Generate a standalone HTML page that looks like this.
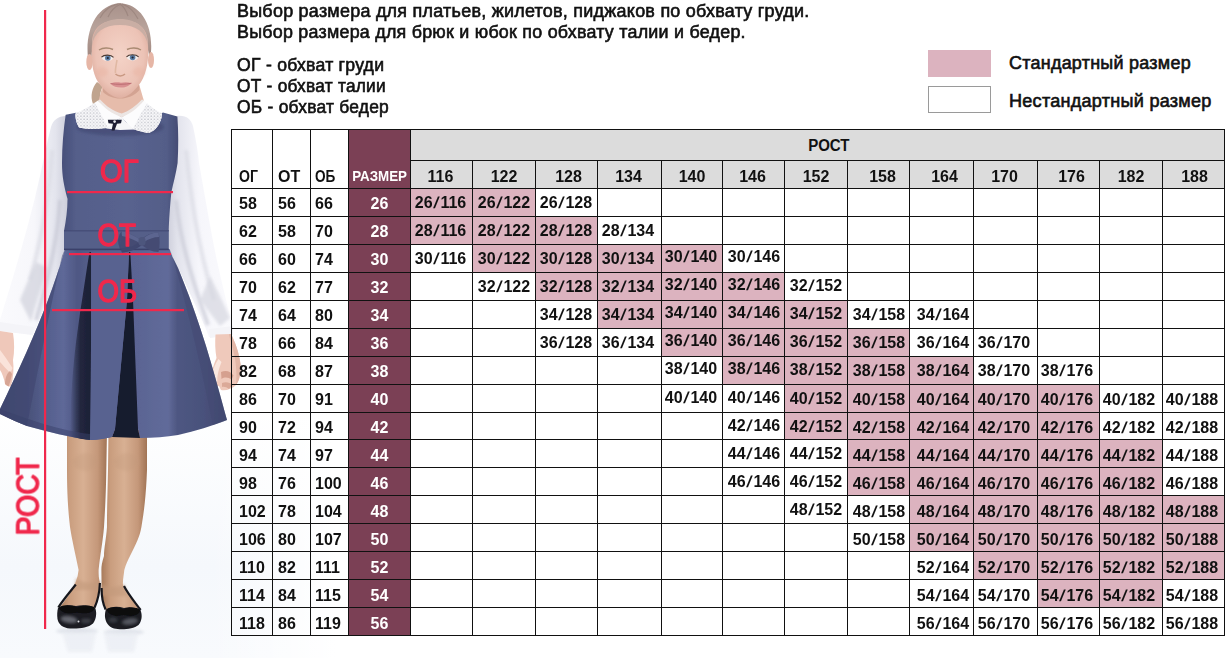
<!DOCTYPE html>
<html lang="ru"><head><meta charset="utf-8"><title>Размерная сетка</title>
<style>
html,body{margin:0;padding:0;background:#fff;}
body{width:1232px;height:658px;overflow:hidden;font-family:"Liberation Sans",sans-serif;color:#111;}
#page{position:relative;width:1232px;height:658px;overflow:hidden;background:#fff;}
#fig{position:absolute;left:0;top:0;}
.t{position:absolute;white-space:nowrap;font-weight:normal;color:#111;-webkit-text-stroke:0.6px #111;letter-spacing:0.25px;transform-origin:0 50%;}
.intro,.abbr,.leg{font-size:17.5px;line-height:20px;}
.box{position:absolute;}
.bg{position:absolute;}
.ln{position:absolute;background:#111;}
.c{position:absolute;text-align:center;white-space:nowrap;font-weight:bold;font-size:16px;color:#111;overflow:visible;}
.c.l{text-align:left;}
.c.hd{font-size:16px;}
.c.rz{font-size:14px;color:#fff;}
.c.sz{font-size:16px;color:#fff;}
.c i{font-style:normal;display:inline-block;padding:0 1.7px;transform:translateX(-0.7px) skewX(-12deg);}
.sx{display:inline-block;}

</style></head>
<body>
<div id="page">
<svg id="fig" width="420" height="658" viewBox="0 0 420 658">
<defs>
  <linearGradient id="bgv" x1="0" y1="0" x2="0" y2="1">
    <stop offset="0" stop-color="#ffffff"/><stop offset="0.62" stop-color="#ffffff"/>
    <stop offset="0.86" stop-color="#f5f8fc"/><stop offset="1" stop-color="#f8fafd"/>
  </linearGradient>
  <linearGradient id="bgh" x1="0" y1="0" x2="1" y2="0">
    <stop offset="0" stop-color="#fff" stop-opacity="0"/><stop offset="0.5" stop-color="#fff" stop-opacity="0"/>
    <stop offset="0.8" stop-color="#fff" stop-opacity="1"/><stop offset="1" stop-color="#fff" stop-opacity="1"/>
  </linearGradient>
  <linearGradient id="skirt" x1="0" y1="0" x2="1" y2="0">
    <stop offset="0" stop-color="#41486f"/><stop offset="0.12" stop-color="#495179"/>
    <stop offset="0.2" stop-color="#555f8d"/><stop offset="0.28" stop-color="#5e6898"/><stop offset="0.34" stop-color="#4f5884"/>
    <stop offset="0.45" stop-color="#57618f"/><stop offset="0.62" stop-color="#5b6594"/><stop offset="0.74" stop-color="#616b9a"/>
    <stop offset="0.78" stop-color="#4e5782"/><stop offset="0.9" stop-color="#49517b"/><stop offset="1" stop-color="#41486e"/>
  </linearGradient>
  <linearGradient id="bod" x1="0" y1="0" x2="1" y2="0">
    <stop offset="0" stop-color="#474f79"/><stop offset="0.12" stop-color="#545e8a"/>
    <stop offset="0.55" stop-color="#59638f"/><stop offset="0.9" stop-color="#535d88"/><stop offset="1" stop-color="#444c74"/>
  </linearGradient>
  <linearGradient id="slL" x1="0" y1="0" x2="1" y2="0">
    <stop offset="0" stop-color="#fafafd"/><stop offset="0.5" stop-color="#f7f7fb"/>
    <stop offset="0.82" stop-color="#e3e4ed"/><stop offset="1" stop-color="#cbccd9"/>
  </linearGradient>
  <linearGradient id="slR" x1="1" y1="0" x2="0" y2="0">
    <stop offset="0" stop-color="#fafafd"/><stop offset="0.5" stop-color="#f6f6fb"/>
    <stop offset="0.82" stop-color="#e2e3ec"/><stop offset="1" stop-color="#c9cad7"/>
  </linearGradient>
  <linearGradient id="legL" x1="0" y1="0" x2="1" y2="0">
    <stop offset="0" stop-color="#a87b5b"/><stop offset="0.2" stop-color="#c99d7e"/>
    <stop offset="0.5" stop-color="#d8b093"/><stop offset="0.8" stop-color="#c5987a"/><stop offset="1" stop-color="#a17455"/>
  </linearGradient>
  <linearGradient id="hair" x1="0" y1="0" x2="0" y2="1">
    <stop offset="0" stop-color="#a8918a"/><stop offset="0.45" stop-color="#b8a39b"/><stop offset="1" stop-color="#9b827a"/>
  </linearGradient>
  <radialGradient id="face" cx="0.5" cy="0.45" r="0.6">
    <stop offset="0" stop-color="#f4d3c7"/><stop offset="0.7" stop-color="#ecc3b6"/><stop offset="1" stop-color="#dba99a"/>
  </radialGradient>
  <filter id="b1" x="-5%" y="-5%" width="110%" height="110%"><feGaussianBlur stdDeviation="0.55"/></filter>
  <filter id="b2" x="-20%" y="-20%" width="140%" height="140%"><feGaussianBlur stdDeviation="1.6"/></filter>
  <filter id="b3" x="-30%" y="-30%" width="160%" height="160%"><feGaussianBlur stdDeviation="4"/></filter>
  <linearGradient id="pl" x1="0" y1="0" x2="1" y2="0">
    <stop offset="0" stop-color="#22263e" stop-opacity="0"/><stop offset="0.5" stop-color="#22263e" stop-opacity="1"/><stop offset="1" stop-color="#1c2035" stop-opacity="1"/>
  </linearGradient>
  <pattern id="lace" width="3.2" height="3.2" patternUnits="userSpaceOnUse">
    <rect width="3.2" height="3.2" fill="#f7f7f9"/><circle cx="0.9" cy="0.9" r="0.75" fill="#bfc0c8"/><circle cx="2.5" cy="2.4" r="0.6" fill="#d3d4da"/>
  </pattern>
</defs>
<rect x="0" y="0" width="420" height="658" fill="url(#bgv)"/>
<rect x="0" y="0" width="420" height="658" fill="url(#bgh)"/>
<g filter="url(#b1)">
  <!-- floor shadow / reflection -->
  <ellipse cx="77" cy="631" rx="21" ry="3" fill="#d9dde5" opacity="0.8" filter="url(#b2)"/><ellipse cx="124" cy="632" rx="20" ry="3" fill="#d9dde5" opacity="0.8" filter="url(#b2)"/>
  <path d="M62 632 L96 632 L92 652 L68 652 Z M104 632 L138 632 L134 652 L108 652 Z" fill="#e9ecf2" opacity="0.7" filter="url(#b2)"/>

  <!-- ponytail -->
  <path d="M97 82 C92 88 90 96 93 104 L101 102 C99 95 101 90 103 86 Z" fill="#c0a48e"/>
  <!-- neck -->
  <path d="M103 84 L98.5 101 L121.8 117.8 L143.8 100.6 L139 84 Z" fill="#e6bcab"/>
  <path d="M103 92 C112 101 130 101 139.5 90 L139 84 L103 84 Z" fill="#d3a392"/>
  <!-- hair -->
  <path d="M88 58 C85 30 96 6 119 3 C142 4 153 26 151 52 L150 60 L146 40 C140 24 100 24 93 40 L91 62 Z" fill="url(#hair)"/>
  <path d="M100 18 C104 10 110 6 118 4 M108 17 C111 10 116 6 121 4 M128 16 C126 10 123 6 120 4 M138 19 C134 11 128 6 122 4" stroke="#8f7a73" stroke-width="1.2" fill="none" opacity="0.55"/>
  <!-- ears -->
  <ellipse cx="89.5" cy="62" rx="3.2" ry="8" fill="#e6b6a6"/>
  <ellipse cx="151" cy="60" rx="3" ry="8" fill="#e6b6a6"/>
  <!-- face -->
  <path d="M92 44 C92 26 104 20 120 20 C137 20 148 27 148 44 C149 60 147 72 141 82 C135 91 127 98 120 98 C113 98 104 91 98 82 C92 72 91 60 92 44 Z" fill="url(#face)"/>
  <!-- hairline shading -->
  <path d="M92 46 C92 28 104 19 120 19 C137 19 148 28 148 46 C146 32 136 25 120 25 C104 25 94 32 92 46 Z" fill="#c9aea4"/>
  <!-- brows -->
  <path d="M99 50 C103 47.5 109 47.5 113 49.5" stroke="#a88a72" stroke-width="1.4" fill="none"/>
  <path d="M127 49.5 C131 47.5 137 47.5 141 50" stroke="#a88a72" stroke-width="1.4" fill="none"/>
  <!-- eyes -->
  <ellipse cx="107.5" cy="58" rx="5.6" ry="2.9" fill="#f4eeec"/>
  <ellipse cx="132.5" cy="57.5" rx="5.6" ry="2.9" fill="#f4eeec"/>
  <circle cx="107.8" cy="58" r="2.8" fill="#5f7fa6"/><circle cx="132.6" cy="57.5" r="2.8" fill="#5f7fa6"/>
  <circle cx="107.8" cy="58" r="1.1" fill="#1f2430"/><circle cx="132.6" cy="57.5" r="1.1" fill="#1f2430"/>
  <path d="M101.5 57.2 C104 54.4 111 54.4 113.5 57.4" stroke="#4b3a33" stroke-width="1.1" fill="none"/>
  <path d="M126.5 56.8 C129 54 136 54 138.6 56.8" stroke="#4b3a33" stroke-width="1.1" fill="none"/>
  <!-- nose -->
  <path d="M115.5 74 C118 76.5 122.5 76.5 125 74" stroke="#c99983" stroke-width="1.5" fill="none"/>
  <path d="M117 60 C116 66 115 70 115.5 73" stroke="#e0b8a3" stroke-width="1.6" fill="none"/>
  <!-- mouth -->
  <path d="M110.5 83.6 C114 82 118 82.2 121 82.8 C124 82.2 128 82 131.5 83.2 C128 86.8 124 87.6 121 87.6 C117 87.6 113 86.6 110.5 83.6 Z" fill="#d88f90"/>
  <path d="M110.5 83.6 C116 84.6 126 84.6 131.5 83.2" stroke="#b5656b" stroke-width="0.8" fill="none"/>
  <!-- cheeks -->
  <ellipse cx="102" cy="72" rx="6" ry="5" fill="#e9b3a1" opacity="0.45" filter="url(#b2)"/>
  <ellipse cx="139" cy="72" rx="6" ry="5" fill="#e9b3a1" opacity="0.45" filter="url(#b2)"/>

  <!-- sleeves -->
  <path d="M66 116 C58 116 53 120 51 127 C47 142 44 158 40 176 C33 208 24 240 14 274 C8 294 3 310 0 320 L0 331 L33 335 C40 318 50 296 60 272 C64 258 67 246 68 236 L68 200 C62 170 63 140 66 116 Z" fill="url(#slL)"/>
  <path d="M177 116 C186 115 191 119 193 126 C196 140 198 152 199 163 C202 180 207 208 212 236 C218 268 225 296 233 328 L232 335 L209 337 C202 318 192 298 182 276 C174 260 167 246 165 236 L168 192 C176 168 178 140 177 116 Z" fill="url(#slR)"/>
  <!-- sleeve folds -->
  <path d="M52 150 C50 190 44 230 30 280" stroke="#d9dae3" stroke-width="4" fill="none" opacity="0.7" filter="url(#b2)"/>
  <path d="M60 200 C58 240 48 280 36 320" stroke="#c6c7d4" stroke-width="4" fill="none" opacity="0.7" filter="url(#b2)"/>
  <path d="M186 150 C190 190 196 240 214 300" stroke="#d9dae3" stroke-width="4" fill="none" opacity="0.7" filter="url(#b2)"/>
  <path d="M176 200 C180 240 192 280 208 325" stroke="#c9cad6" stroke-width="4" fill="none" opacity="0.7" filter="url(#b2)"/>
  <path d="M20 300 C24 290 30 276 36 262 L48 268 C42 284 36 304 31 322 Z" fill="#d3d4de" opacity="0.75" filter="url(#b2)"/>
  <path d="M200 300 C206 308 214 318 220 326 L230 318 C224 304 216 288 210 276 Z" fill="#d6d7e0" opacity="0.7" filter="url(#b2)"/>
  <!-- cuffs -->
  <path d="M0 322 L34 327 L33 335 L0 331 Z" fill="#f4f4f8"/>
  <path d="M209 329 L233 326 L233 335 L210 338 Z" fill="#f4f4f8"/>

  <!-- hands -->
  <path d="M0 331 L13 333 C14.5 342 14.5 352 13 360 C14 368 13.5 378 11 386 C9 387 6.5 386 5 384 C4 378 2 373 0 370 Z" fill="#efc8ba"/>
  <path d="M0 350 C4 355 8 361 12.5 368 L10.5 373 C6 369 3 365 0 362 Z" fill="#fae3da"/>
  <path d="M5 384 C5 378 7 373 10 371 L12 374 C11 379 10 383 8.5 386.5 Z" fill="#d7a594"/>
  <path d="M215.5 334.6 L231 334 C235 342 239 352 240.5 364 C241 372 240 380 236 385 C232 389 226 391 221 390 L219 386 C215 386 212 383 211 379 C211 372 214 364 216.5 358 C215 350 215 342 215.5 334.6 Z" fill="#efc9bb"/>
  <path d="M211.5 380 C211.5 372 215 364 218.5 359 L221.5 362 C219 368 217 375 217.2 382 C215.4 384 212.6 383.4 211.5 380 Z" fill="#fbe8e0"/>
  <path d="M221 372 C226 369.5 231 371.5 233.5 375.5 L231.5 380 C228.5 377 224.5 377 221.5 379 Z" fill="#d5a08f"/>
  <path d="M222 383 C226 381.5 230 382.5 232.5 385 L229 389 C226.5 387 224 386.5 222 387 Z" fill="#dba998"/>
  <path d="M231 334 C235 342 239 352 240.5 364 C241 372 240 380 236 385 C237 376 236.5 362 233 350 C231.5 344 230 339 229 334.2 Z" fill="#e0b3a3" opacity="0.8"/>

  <!-- legs -->
  <path d="M67 430 L67 470 C67 492 68 510 70 527 C72 540 75 552 78.6 570 C78 578 74.5 586 69.5 594 L59.5 608 L95 609 C98 600 99.6 592 100 583 C98.6 578 98.6 574 98.6 570 C100 556 103 540 104 527 C105.5 505 106 488 106.3 470 L107 430 Z" fill="url(#legL)"/>
  <path d="M108.5 430 L108 470 C107.6 490 107 510 107 527 C106 540 104 548 104 556 C102 562 101.4 566 101.4 570 L101.6 588 C101.8 596 103 603 106 611 L140 611 C135 603 129 596 124 588 L122.9 584 C123 578 124 574 124.3 570 C126 564 128 560 130 556 C136 544 140 536 141.4 527 C144 512 146 496 147 470 L147 430 Z" fill="url(#legL)"/>
  <!-- knee hints -->
  <ellipse cx="86" cy="462" rx="13" ry="9" fill="#c39a7b" opacity="0.3" filter="url(#b2)"/>
  <ellipse cx="127" cy="462" rx="13" ry="9" fill="#c39a7b" opacity="0.3" filter="url(#b2)"/>
  <!-- ankle shading -->
  <path d="M76 578 C84 584 94 584 100 580 L100 590 L74 590 Z" fill="#c39a7c" opacity="0.6" filter="url(#b2)"/>
  <path d="M101 584 C108 588 118 588 124 584 L128 596 L102 596 Z" fill="#c39a7c" opacity="0.6" filter="url(#b2)"/>

  <!-- shoes -->
  <path d="M75.8 584.5 C70 592 63 600 58.3 607.5" stroke="#17181d" stroke-width="2.2" fill="none"/>
  <path d="M99.9 583 C99.6 592 98 600 94.6 607.5" stroke="#17181d" stroke-width="2.2" fill="none"/>
  <path d="M58 608 C62 605 70 604.5 76 606 C82 604.5 90 605 95 607.5 C97 612 96.5 619 93 623.5 C88 628 78 629 70 628.5 C63 628 58.5 624.5 57.5 619 C57 615 57.2 611 58 608 Z" fill="#1b1c22"/>
  <path d="M101.6 588 C101.5 596 102.5 603 105.6 609.5" stroke="#17181d" stroke-width="2.2" fill="none"/>
  <path d="M124 586 C128 594 134 601 140.6 610" stroke="#17181d" stroke-width="2.2" fill="none"/>
  <path d="M106 609.5 C110 606.5 118 606 124 608 C130 606.5 136 607.5 140.5 610 C142.5 615 142 621 138.5 625 C133 629.5 121 630 114 628.5 C108.5 627 105.5 622 105 617 C104.8 614 105.2 611.5 106 609.5 Z" fill="#1b1c22"/>
  <!-- gloss -->
  <ellipse cx="69" cy="619.5" rx="8.5" ry="3.6" fill="#7b7e87" opacity="0.75" transform="rotate(8 69 619.5)" filter="url(#b2)"/>
  <ellipse cx="86" cy="621" rx="5" ry="2.4" fill="#54575f" opacity="0.6" filter="url(#b2)"/>
  <ellipse cx="130" cy="621.5" rx="8" ry="3.2" fill="#6d7079" opacity="0.7" transform="rotate(-8 130 621.5)" filter="url(#b2)"/>
  <ellipse cx="113" cy="620" rx="4.5" ry="2.6" fill="#4b4e56" opacity="0.6" filter="url(#b2)"/>
  <circle cx="78.5" cy="621.5" r="1" fill="#d9dbe0"/>
  <!-- shoe bows -->
  <path d="M59 607.5 C63 604.5 72 604.8 77 607.5 C82 604.6 90 604.8 94.5 607.5 C94.5 612.5 86 614.5 77 612.5 C68 614.5 60 612.5 59 607.5 Z" fill="#08090c"/>
  <path d="M107 609.5 C111 606.5 119 606.8 123.5 609.5 C128 606.8 136 607 140 610 C140 615 132 617 123.5 615 C115.5 617 108 615 107 609.5 Z" fill="#08090c"/>

  <!-- dress: skirt -->
  <path d="M65 249 C60 266 54 284 48 300 C36 332 18 372 0 409 L0 414 C10 419 19 423 27 426 C48 432 70 437 90 440 C98 440 106 438 112 437 L115 429 L138 429 L140 438 C154 438 166 437 178 435 C196 431 212 426 227 420 C222 402 214 372 206 346 C198 320 188 292 178 268 C174 260 171 254 169.6 249 Z" fill="url(#skirt)"/>
  <!-- left outer panel darker -->
  <path d="M65 249 L62 256 C52 300 38 370 27 426 C19 423 10 419 0 414 L0 409 C18 372 36 332 48 300 C54 284 60 266 65 249 Z" fill="#3f4670" opacity="0.6"/>
  <!-- left pleat shadow -->
  <path d="M89.5 252 L91 252 L91 440 C84 439.5 77 438 70 436.5 C70 410 72 380 74 361 C76 340 78.5 325 80 313 C83 295 86.5 270 89.5 252 Z" fill="url(#pl)"/>
  <!-- right (center) pleat, very dark -->
  <path d="M129 252 L130.3 252 L133 300 L138 429 L140 438 L112 437 L115 429 L127 300 Z" fill="#181b2d"/>
  
  <path d="M90 440 C98 440 106 438 112 437 L115 429 L127 300 L129 252 L91 252 C91.5 300 91 380 90 440 Z" fill="#586290"/>
  <!-- right panel subtle shading -->
  <path d="M169.6 249 C171 254 174 260 178 268 C188 292 198 320 206 346 C214 372 222 402 227 420 C222 422 218 423.5 213 425 C202 370 188 310 172 255 Z" fill="#424972" opacity="0.5"/>
  <!-- hem shading -->
  <path d="M0 409 L0 414 C10 419 19 423 27 426 C48 432 70 437 90 440 L90 434 C66 431 40 424 0 409 Z" fill="#3a406a" opacity="0.5"/>

  <!-- bodice -->
  <path d="M65.8 114.8 L76 112.8 L90 119 L150 119 L163 112.4 L177.4 116.6 C178.5 132 178.5 148 177.6 163 C176 174 173 184 171.4 192 C170 206 169 220 168.7 231 L64 231 C66 220 67.5 210 67.5 199 C64 186 62 176 62 163 C62 146 63.5 130 65.6 115 Z" fill="url(#bod)"/>
  <ellipse cx="120" cy="127" rx="44" ry="9" fill="#3c436c" opacity="0.55" filter="url(#b2)"/>
  <!-- belt -->
  <rect x="64" y="230.6" width="104.8" height="19" fill="#545e89"/>
  <rect x="64" y="230.2" width="104.8" height="1.2" fill="#444c75"/>
  <rect x="64" y="248.6" width="104.8" height="1.6" fill="#3a416a"/>
  <!-- bow -->
  <path d="M121.5 231.5 C128 232 136 236.5 140.5 240 C145 235.5 152 232.5 158.5 232.5 C160 238 160 246 158.5 252 C152 252 146 248.5 142 245 C137 248.5 128.5 252.5 122 252.5 C120.5 246 120.5 238 121.5 231.5 Z" fill="#454c73"/>
  <path d="M121.5 231.5 C128 232 136 236.5 140.5 240 L140 243 C134 240 128 237 122 236 Z" fill="#5e6893" opacity="0.9"/>
  <path d="M158.5 232.5 C152 232.5 146 235.5 143 239 L144 242 C148 239 154 237 159 237 Z" fill="#5e6893" opacity="0.9"/>
  <path d="M122 252.5 C128.5 252.5 137 248.5 141 245.5 L138 243 C134 246 128 248 121.5 248 Z" fill="#3e456e" opacity="0.8"/>
  <ellipse cx="142" cy="241.5" rx="3.6" ry="4.4" fill="#4e567d"/>
  <path d="M118 240 C119 236 120 233 121.5 231.5 C120.5 238 120.5 246 122 252.5 C120 250 118.5 246 118 240 Z" fill="#3c436c" opacity="0.7"/>

  <!-- collar (white lace) -->
  <path d="M98 100.5 C92 105 84 109.5 75.5 113.6 C75 119 77 124 79 127.6 C86 129.5 96 129 107 128 C110 126 113 123.5 115 121 L121.8 117.2 L126 122 C128 125 130 127.5 133 129 C139 131 144 132.5 148.6 133 C154 131.5 158 127 160 122 C161.5 119 162 116 162 113.6 C154 110 149 105.5 144 100.5 C138 108 130 114 121.8 117.2 C112 114 104 108 98 100.5 Z" fill="#fcfcfd"/>
  <path d="M75.5 113.6 C84 109.5 90 106 95 103 C99 110 104 120 108 128 C98 129 86 129.5 79 127.6 C77 124 75 119 75.5 113.6 Z" fill="url(#lace)"/>
  <path d="M162 113.6 C156 110.5 151 107 147 103.5 C143 110 137 120 133 129 C139 131 144 132.5 148.6 133 C154 131.5 158 127 160 122 C161.5 119 162 116 162 113.6 Z" fill="url(#lace)"/>
  <path d="M98 100.5 C104 108 112 114 121.8 117.2 C130 114 138 108 144 100.5 L142 99.5 C136 106 129 111 121.8 113.6 C113 111 106 106 100 99.5 Z" fill="#ece6e4"/>
  <path d="M106 128.4 L115 121 L121.8 117 L126 122 L134 129.6 L120 130 Z" fill="#f6f6f8"/>
  <!-- small dark bow tie -->
  <path d="M107.8 119.7 L121.8 119.7 L121 123.3 L117 123.8 L114.5 130.6 L111.5 130.6 L113 123.8 L108.5 123.3 Z" fill="#1b1d30"/>
  <circle cx="114.6" cy="121.6" r="1.3" fill="#ececf2"/>
</g>

<!-- red measure marks -->
<g fill="#f0284c">
  <rect x="44" y="10" width="2.2" height="619"/>
  <rect x="67" y="191" width="106" height="2.2"/>
  <rect x="69" y="253" width="102" height="2.2"/>
  <rect x="52" y="309" width="132" height="2.2"/>
</g>
<g font-family="Liberation Sans, sans-serif" font-size="30.5" fill="#f0284c" stroke="#f0284c" stroke-width="1.35" stroke-linejoin="round">
  <text x="100" y="182.4" textLength="38.5" lengthAdjust="spacingAndGlyphs">ОГ</text>
  <text x="97.5" y="245.6" textLength="38.5" lengthAdjust="spacingAndGlyphs">ОТ</text>
  <text x="97.5" y="301.6" textLength="39.5" lengthAdjust="spacingAndGlyphs">ОБ</text>
  <text transform="translate(38.6 535.5) rotate(-90)" font-size="32" textLength="78" lengthAdjust="spacingAndGlyphs">РОСТ</text>
</g>
</svg>
<div class="t intro" style="left:237.3px;top:1.0px;transform:scaleX(1.0252)">Выбор размера для платьев, жилетов, пиджаков по обхвату груди.</div>
<div class="t intro" style="left:237.3px;top:21.6px;transform:scaleX(1.0202)">Выбор размера для брюк и юбок по обхвату талии и бедер.</div>
<div class="t abbr" style="left:237.3px;top:54.7px;transform:scaleX(1.007)">ОГ - обхват груди</div>
<div class="t abbr" style="left:237.3px;top:75.9px;transform:scaleX(0.9885)">ОТ - обхват талии</div>
<div class="t abbr" style="left:237.3px;top:97.1px;transform:scaleX(0.9937)">ОБ - обхват бедер</div>
<div class="box" style="left:928px;top:50px;width:63px;height:27px;background:#dcb3bf"></div>
<div class="box" style="left:928px;top:86px;width:61px;height:25px;background:#fff;border:1px solid #9a9a9a"></div>
<div class="t leg" style="left:1008.8px;top:53.1px;transform:scaleX(1.0256)">Стандартный размер</div>
<div class="t leg" style="left:1008.8px;top:90.6px;transform:scaleX(1.0321)">Нестандартный размер</div>
<div id="tbl">
<div class="bg" style="left:348px;top:129px;width:63px;height:507px;background:#7b4055"></div>
<div class="bg" style="left:410px;top:129px;width:815px;height:60px;background:#dcdcdc"></div>
<div class="bg" style="left:411px;top:189px;width:813px;height:446px;background:#fff"></div>
<div class="bg" style="left:410px;top:188px;width:63px;height:29px;background:#dcb3bf"></div>
<div class="bg" style="left:472px;top:188px;width:64px;height:29px;background:#dcb3bf"></div>
<div class="bg" style="left:410px;top:216px;width:63px;height:29px;background:#dcb3bf"></div>
<div class="bg" style="left:472px;top:216px;width:64px;height:29px;background:#dcb3bf"></div>
<div class="bg" style="left:535px;top:216px;width:63px;height:29px;background:#dcb3bf"></div>
<div class="bg" style="left:472px;top:244px;width:64px;height:29px;background:#dcb3bf"></div>
<div class="bg" style="left:535px;top:244px;width:63px;height:29px;background:#dcb3bf"></div>
<div class="bg" style="left:597px;top:244px;width:65px;height:29px;background:#dcb3bf"></div>
<div class="bg" style="left:661px;top:244px;width:62px;height:29px;background:#dcb3bf"></div>
<div class="bg" style="left:535px;top:272px;width:63px;height:29px;background:#dcb3bf"></div>
<div class="bg" style="left:597px;top:272px;width:65px;height:29px;background:#dcb3bf"></div>
<div class="bg" style="left:661px;top:272px;width:62px;height:29px;background:#dcb3bf"></div>
<div class="bg" style="left:722px;top:272px;width:63px;height:29px;background:#dcb3bf"></div>
<div class="bg" style="left:597px;top:300px;width:65px;height:29px;background:#dcb3bf"></div>
<div class="bg" style="left:661px;top:300px;width:62px;height:29px;background:#dcb3bf"></div>
<div class="bg" style="left:722px;top:300px;width:63px;height:29px;background:#dcb3bf"></div>
<div class="bg" style="left:784px;top:300px;width:64px;height:29px;background:#dcb3bf"></div>
<div class="bg" style="left:661px;top:328px;width:62px;height:29px;background:#dcb3bf"></div>
<div class="bg" style="left:722px;top:328px;width:63px;height:29px;background:#dcb3bf"></div>
<div class="bg" style="left:784px;top:328px;width:64px;height:29px;background:#dcb3bf"></div>
<div class="bg" style="left:847px;top:328px;width:63px;height:29px;background:#dcb3bf"></div>
<div class="bg" style="left:722px;top:356px;width:63px;height:29px;background:#dcb3bf"></div>
<div class="bg" style="left:784px;top:356px;width:64px;height:29px;background:#dcb3bf"></div>
<div class="bg" style="left:847px;top:356px;width:63px;height:29px;background:#dcb3bf"></div>
<div class="bg" style="left:909px;top:356px;width:65px;height:29px;background:#dcb3bf"></div>
<div class="bg" style="left:784px;top:384px;width:64px;height:29px;background:#dcb3bf"></div>
<div class="bg" style="left:847px;top:384px;width:63px;height:29px;background:#dcb3bf"></div>
<div class="bg" style="left:909px;top:384px;width:65px;height:29px;background:#dcb3bf"></div>
<div class="bg" style="left:973px;top:384px;width:65px;height:29px;background:#dcb3bf"></div>
<div class="bg" style="left:1037px;top:384px;width:63px;height:29px;background:#dcb3bf"></div>
<div class="bg" style="left:784px;top:412px;width:64px;height:28px;background:#dcb3bf"></div>
<div class="bg" style="left:847px;top:412px;width:63px;height:28px;background:#dcb3bf"></div>
<div class="bg" style="left:909px;top:412px;width:65px;height:28px;background:#dcb3bf"></div>
<div class="bg" style="left:973px;top:412px;width:65px;height:28px;background:#dcb3bf"></div>
<div class="bg" style="left:1037px;top:412px;width:63px;height:28px;background:#dcb3bf"></div>
<div class="bg" style="left:847px;top:439px;width:63px;height:29px;background:#dcb3bf"></div>
<div class="bg" style="left:909px;top:439px;width:65px;height:29px;background:#dcb3bf"></div>
<div class="bg" style="left:973px;top:439px;width:65px;height:29px;background:#dcb3bf"></div>
<div class="bg" style="left:1037px;top:439px;width:63px;height:29px;background:#dcb3bf"></div>
<div class="bg" style="left:1099px;top:439px;width:64px;height:29px;background:#dcb3bf"></div>
<div class="bg" style="left:847px;top:467px;width:63px;height:29px;background:#dcb3bf"></div>
<div class="bg" style="left:909px;top:467px;width:65px;height:29px;background:#dcb3bf"></div>
<div class="bg" style="left:973px;top:467px;width:65px;height:29px;background:#dcb3bf"></div>
<div class="bg" style="left:1037px;top:467px;width:63px;height:29px;background:#dcb3bf"></div>
<div class="bg" style="left:1099px;top:467px;width:64px;height:29px;background:#dcb3bf"></div>
<div class="bg" style="left:909px;top:495px;width:65px;height:29px;background:#dcb3bf"></div>
<div class="bg" style="left:973px;top:495px;width:65px;height:29px;background:#dcb3bf"></div>
<div class="bg" style="left:1037px;top:495px;width:63px;height:29px;background:#dcb3bf"></div>
<div class="bg" style="left:1099px;top:495px;width:64px;height:29px;background:#dcb3bf"></div>
<div class="bg" style="left:1162px;top:495px;width:63px;height:29px;background:#dcb3bf"></div>
<div class="bg" style="left:909px;top:523px;width:65px;height:29px;background:#dcb3bf"></div>
<div class="bg" style="left:973px;top:523px;width:65px;height:29px;background:#dcb3bf"></div>
<div class="bg" style="left:1037px;top:523px;width:63px;height:29px;background:#dcb3bf"></div>
<div class="bg" style="left:1099px;top:523px;width:64px;height:29px;background:#dcb3bf"></div>
<div class="bg" style="left:1162px;top:523px;width:63px;height:29px;background:#dcb3bf"></div>
<div class="bg" style="left:973px;top:551px;width:65px;height:29px;background:#dcb3bf"></div>
<div class="bg" style="left:1037px;top:551px;width:63px;height:29px;background:#dcb3bf"></div>
<div class="bg" style="left:1099px;top:551px;width:64px;height:29px;background:#dcb3bf"></div>
<div class="bg" style="left:1162px;top:551px;width:63px;height:29px;background:#dcb3bf"></div>
<div class="bg" style="left:1037px;top:579px;width:63px;height:29px;background:#dcb3bf"></div>
<div class="bg" style="left:1099px;top:579px;width:64px;height:29px;background:#dcb3bf"></div>
<div class="ln" style="left:231px;top:129px;width:1px;height:507px"></div>
<div class="ln" style="left:272px;top:129px;width:1px;height:507px"></div>
<div class="ln" style="left:310px;top:129px;width:1px;height:507px"></div>
<div class="ln" style="left:348px;top:129px;width:1px;height:507px"></div>
<div class="ln" style="left:410px;top:129px;width:1px;height:507px"></div>
<div class="ln" style="left:472px;top:160px;width:1px;height:476px"></div>
<div class="ln" style="left:535px;top:160px;width:1px;height:476px"></div>
<div class="ln" style="left:597px;top:160px;width:1px;height:476px"></div>
<div class="ln" style="left:661px;top:160px;width:1px;height:476px"></div>
<div class="ln" style="left:722px;top:160px;width:1px;height:476px"></div>
<div class="ln" style="left:784px;top:160px;width:1px;height:476px"></div>
<div class="ln" style="left:847px;top:160px;width:1px;height:476px"></div>
<div class="ln" style="left:909px;top:160px;width:1px;height:476px"></div>
<div class="ln" style="left:973px;top:160px;width:1px;height:476px"></div>
<div class="ln" style="left:1037px;top:160px;width:1px;height:476px"></div>
<div class="ln" style="left:1099px;top:160px;width:1px;height:476px"></div>
<div class="ln" style="left:1162px;top:160px;width:1px;height:476px"></div>
<div class="ln" style="left:1224px;top:129px;width:1px;height:507px"></div>
<div class="ln" style="left:231px;top:129px;width:994px;height:1px"></div>
<div class="ln" style="left:410px;top:160px;width:815px;height:1px"></div>
<div class="ln" style="left:231px;top:188px;width:994px;height:1px"></div>
<div class="ln" style="left:231px;top:216px;width:994px;height:1px"></div>
<div class="ln" style="left:231px;top:244px;width:994px;height:1px"></div>
<div class="ln" style="left:231px;top:272px;width:994px;height:1px"></div>
<div class="ln" style="left:231px;top:300px;width:994px;height:1px"></div>
<div class="ln" style="left:231px;top:328px;width:994px;height:1px"></div>
<div class="ln" style="left:231px;top:356px;width:994px;height:1px"></div>
<div class="ln" style="left:231px;top:384px;width:994px;height:1px"></div>
<div class="ln" style="left:231px;top:412px;width:994px;height:1px"></div>
<div class="ln" style="left:231px;top:439px;width:994px;height:1px"></div>
<div class="ln" style="left:231px;top:467px;width:994px;height:1px"></div>
<div class="ln" style="left:231px;top:495px;width:994px;height:1px"></div>
<div class="ln" style="left:231px;top:523px;width:994px;height:1px"></div>
<div class="ln" style="left:231px;top:551px;width:994px;height:1px"></div>
<div class="ln" style="left:231px;top:579px;width:994px;height:1px"></div>
<div class="ln" style="left:231px;top:607px;width:994px;height:1px"></div>
<div class="ln" style="left:231px;top:635px;width:994px;height:1px"></div>
<div class="c hd" style="left:779px;top:130px;width:100px;height:30px;line-height:31px"><span class="sx" style="transform:scaleX(0.94)">РОСТ</span></div>
<div class="c hd" style="left:410px;top:163px;width:61px;height:27px;line-height:27px">116</div>
<div class="c hd" style="left:473px;top:163px;width:62px;height:27px;line-height:27px">122</div>
<div class="c hd" style="left:538px;top:163px;width:61px;height:27px;line-height:27px">128</div>
<div class="c hd" style="left:597px;top:163px;width:63px;height:27px;line-height:27px">134</div>
<div class="c hd" style="left:662px;top:163px;width:60px;height:27px;line-height:27px">140</div>
<div class="c hd" style="left:722px;top:163px;width:61px;height:27px;line-height:27px">146</div>
<div class="c hd" style="left:785px;top:163px;width:62px;height:27px;line-height:27px">152</div>
<div class="c hd" style="left:852px;top:163px;width:61px;height:27px;line-height:27px">158</div>
<div class="c hd" style="left:913px;top:163px;width:63px;height:27px;line-height:27px">164</div>
<div class="c hd" style="left:973px;top:163px;width:63px;height:27px;line-height:27px">170</div>
<div class="c hd" style="left:1041px;top:163px;width:61px;height:27px;line-height:27px">176</div>
<div class="c hd" style="left:1100px;top:163px;width:62px;height:27px;line-height:27px">182</div>
<div class="c hd" style="left:1164px;top:163px;width:61px;height:27px;line-height:27px">188</div>
<div class="c rz" style="left:349px;top:163px;width:61px;height:27px;line-height:27px"><span class="sx" style="transform:scaleX(0.955)">РАЗМЕР</span></div>
<div class="c l hd" style="left:239px;top:163px;width:33px;height:27px;line-height:27px"><span class="sx" style="transform-origin:0 50%;transform:scaleX(0.88)">ОГ</span></div>
<div class="c l hd" style="left:278px;top:163px;width:32px;height:27px;line-height:27px"><span class="sx" style="transform-origin:0 50%;transform:scaleX(1.0)">ОТ</span></div>
<div class="c l hd" style="left:315px;top:163px;width:33px;height:27px;line-height:27px"><span class="sx" style="transform-origin:0 50%;transform:scaleX(0.85)">ОБ</span></div>
<div class="c l" style="left:239px;top:189.5px;width:33px;height:28px;line-height:28px">58</div>
<div class="c l" style="left:278px;top:189.5px;width:32px;height:28px;line-height:28px">56</div>
<div class="c l" style="left:315px;top:189.5px;width:33px;height:28px;line-height:28px">66</div>
<div class="c sz" style="left:349.0px;top:189.5px;width:61px;height:28px;line-height:28px">26</div>
<div class="c v" style="left:410.0px;top:189.0px;width:61px;height:28px;line-height:28px">26<i>/</i>116</div>
<div class="c v" style="left:473.0px;top:189.0px;width:62px;height:28px;line-height:28px">26<i>/</i>122</div>
<div class="c v" style="left:535.5px;top:189.0px;width:61px;height:28px;line-height:28px">26<i>/</i>128</div>
<div class="c l" style="left:239px;top:217.5px;width:33px;height:28px;line-height:28px">62</div>
<div class="c l" style="left:278px;top:217.5px;width:32px;height:28px;line-height:28px">58</div>
<div class="c l" style="left:315px;top:217.5px;width:33px;height:28px;line-height:28px">70</div>
<div class="c sz" style="left:349.0px;top:217.5px;width:61px;height:28px;line-height:28px">28</div>
<div class="c v" style="left:410.0px;top:217.0px;width:61px;height:28px;line-height:28px">28<i>/</i>116</div>
<div class="c v" style="left:473.0px;top:217.0px;width:62px;height:28px;line-height:28px">28<i>/</i>122</div>
<div class="c v" style="left:535.5px;top:217.0px;width:61px;height:28px;line-height:28px">28<i>/</i>128</div>
<div class="c v" style="left:596.5px;top:217.0px;width:63px;height:28px;line-height:28px">28<i>/</i>134</div>
<div class="c l" style="left:239px;top:245.5px;width:33px;height:28px;line-height:28px">66</div>
<div class="c l" style="left:278px;top:245.5px;width:32px;height:28px;line-height:28px">60</div>
<div class="c l" style="left:315px;top:245.5px;width:33px;height:28px;line-height:28px">74</div>
<div class="c sz" style="left:349.0px;top:245.5px;width:61px;height:28px;line-height:28px">30</div>
<div class="c v" style="left:410.0px;top:245.0px;width:61px;height:28px;line-height:28px">30<i>/</i>116</div>
<div class="c v" style="left:473.0px;top:245.0px;width:62px;height:28px;line-height:28px">30<i>/</i>122</div>
<div class="c v" style="left:535.5px;top:245.0px;width:61px;height:28px;line-height:28px">30<i>/</i>128</div>
<div class="c v" style="left:596.5px;top:245.0px;width:63px;height:28px;line-height:28px">30<i>/</i>134</div>
<div class="c v" style="left:661.0px;top:243.0px;width:60px;height:28px;line-height:28px">30<i>/</i>140</div>
<div class="c v" style="left:723.5px;top:243.0px;width:61px;height:28px;line-height:28px">30<i>/</i>146</div>
<div class="c l" style="left:239px;top:273.5px;width:33px;height:28px;line-height:28px">70</div>
<div class="c l" style="left:278px;top:273.5px;width:32px;height:28px;line-height:28px">62</div>
<div class="c l" style="left:315px;top:273.5px;width:33px;height:28px;line-height:28px">77</div>
<div class="c sz" style="left:349.0px;top:273.5px;width:61px;height:28px;line-height:28px">32</div>
<div class="c v" style="left:473.0px;top:273.0px;width:62px;height:28px;line-height:28px">32<i>/</i>122</div>
<div class="c v" style="left:535.5px;top:273.0px;width:61px;height:28px;line-height:28px">32<i>/</i>128</div>
<div class="c v" style="left:596.5px;top:273.0px;width:63px;height:28px;line-height:28px">32<i>/</i>134</div>
<div class="c v" style="left:661.0px;top:271.0px;width:60px;height:28px;line-height:28px">32<i>/</i>140</div>
<div class="c v" style="left:723.5px;top:271.0px;width:61px;height:28px;line-height:28px">32<i>/</i>146</div>
<div class="c v" style="left:785.0px;top:272.0px;width:62px;height:28px;line-height:28px">32<i>/</i>152</div>
<div class="c l" style="left:239px;top:301.5px;width:33px;height:28px;line-height:28px">74</div>
<div class="c l" style="left:278px;top:301.5px;width:32px;height:28px;line-height:28px">64</div>
<div class="c l" style="left:315px;top:301.5px;width:33px;height:28px;line-height:28px">80</div>
<div class="c sz" style="left:349.0px;top:301.5px;width:61px;height:28px;line-height:28px">34</div>
<div class="c v" style="left:535.5px;top:301.0px;width:61px;height:28px;line-height:28px">34<i>/</i>128</div>
<div class="c v" style="left:596.5px;top:301.0px;width:63px;height:28px;line-height:28px">34<i>/</i>134</div>
<div class="c v" style="left:661.0px;top:299.0px;width:60px;height:28px;line-height:28px">34<i>/</i>140</div>
<div class="c v" style="left:723.5px;top:299.0px;width:61px;height:28px;line-height:28px">34<i>/</i>146</div>
<div class="c v" style="left:785.0px;top:300.0px;width:62px;height:28px;line-height:28px">34<i>/</i>152</div>
<div class="c v" style="left:848.5px;top:301.0px;width:61px;height:28px;line-height:28px">34<i>/</i>158</div>
<div class="c v" style="left:911.5px;top:301.0px;width:63px;height:28px;line-height:28px">34<i>/</i>164</div>
<div class="c l" style="left:239px;top:329.5px;width:33px;height:28px;line-height:28px">78</div>
<div class="c l" style="left:278px;top:329.5px;width:32px;height:28px;line-height:28px">66</div>
<div class="c l" style="left:315px;top:329.5px;width:33px;height:28px;line-height:28px">84</div>
<div class="c sz" style="left:349.0px;top:329.5px;width:61px;height:28px;line-height:28px">36</div>
<div class="c v" style="left:535.5px;top:329.0px;width:61px;height:28px;line-height:28px">36<i>/</i>128</div>
<div class="c v" style="left:596.5px;top:329.0px;width:63px;height:28px;line-height:28px">36<i>/</i>134</div>
<div class="c v" style="left:661.0px;top:327.0px;width:60px;height:28px;line-height:28px">36<i>/</i>140</div>
<div class="c v" style="left:723.5px;top:327.0px;width:61px;height:28px;line-height:28px">36<i>/</i>146</div>
<div class="c v" style="left:785.0px;top:328.0px;width:62px;height:28px;line-height:28px">36<i>/</i>152</div>
<div class="c v" style="left:848.5px;top:329.0px;width:61px;height:28px;line-height:28px">36<i>/</i>158</div>
<div class="c v" style="left:911.5px;top:329.0px;width:63px;height:28px;line-height:28px">36<i>/</i>164</div>
<div class="c v" style="left:972.5px;top:329.0px;width:63px;height:28px;line-height:28px">36<i>/</i>170</div>
<div class="c l" style="left:239px;top:357.5px;width:33px;height:28px;line-height:28px">82</div>
<div class="c l" style="left:278px;top:357.5px;width:32px;height:28px;line-height:28px">68</div>
<div class="c l" style="left:315px;top:357.5px;width:33px;height:28px;line-height:28px">87</div>
<div class="c sz" style="left:349.0px;top:357.5px;width:61px;height:28px;line-height:28px">38</div>
<div class="c v" style="left:661.0px;top:355.0px;width:60px;height:28px;line-height:28px">38<i>/</i>140</div>
<div class="c v" style="left:723.5px;top:355.0px;width:61px;height:28px;line-height:28px">38<i>/</i>146</div>
<div class="c v" style="left:785.0px;top:356.0px;width:62px;height:28px;line-height:28px">38<i>/</i>152</div>
<div class="c v" style="left:848.5px;top:357.0px;width:61px;height:28px;line-height:28px">38<i>/</i>158</div>
<div class="c v" style="left:911.5px;top:357.0px;width:63px;height:28px;line-height:28px">38<i>/</i>164</div>
<div class="c v" style="left:972.5px;top:357.0px;width:63px;height:28px;line-height:28px">38<i>/</i>170</div>
<div class="c v" style="left:1036.5px;top:357.0px;width:61px;height:28px;line-height:28px">38<i>/</i>176</div>
<div class="c l" style="left:239px;top:385.5px;width:33px;height:28px;line-height:28px">86</div>
<div class="c l" style="left:278px;top:385.5px;width:32px;height:28px;line-height:28px">70</div>
<div class="c l" style="left:315px;top:385.5px;width:33px;height:28px;line-height:28px">91</div>
<div class="c sz" style="left:349.0px;top:385.5px;width:61px;height:28px;line-height:28px">40</div>
<div class="c v" style="left:661.0px;top:383.5px;width:60px;height:28px;line-height:28px">40<i>/</i>140</div>
<div class="c v" style="left:723.5px;top:383.5px;width:61px;height:28px;line-height:28px">40<i>/</i>146</div>
<div class="c v" style="left:785.0px;top:384.5px;width:62px;height:28px;line-height:28px">40<i>/</i>152</div>
<div class="c v" style="left:848.5px;top:385.5px;width:61px;height:28px;line-height:28px">40<i>/</i>158</div>
<div class="c v" style="left:911.5px;top:385.5px;width:63px;height:28px;line-height:28px">40<i>/</i>164</div>
<div class="c v" style="left:972.5px;top:385.5px;width:63px;height:28px;line-height:28px">40<i>/</i>170</div>
<div class="c v" style="left:1036.5px;top:385.5px;width:61px;height:28px;line-height:28px">40<i>/</i>176</div>
<div class="c v" style="left:1098.0px;top:385.5px;width:62px;height:28px;line-height:28px">40<i>/</i>182</div>
<div class="c v" style="left:1161.5px;top:385.5px;width:61px;height:28px;line-height:28px">40<i>/</i>188</div>
<div class="c l" style="left:239px;top:413.5px;width:33px;height:28px;line-height:28px">90</div>
<div class="c l" style="left:278px;top:413.5px;width:32px;height:28px;line-height:28px">72</div>
<div class="c l" style="left:315px;top:413.5px;width:33px;height:28px;line-height:28px">94</div>
<div class="c sz" style="left:349.0px;top:413.5px;width:61px;height:28px;line-height:28px">42</div>
<div class="c v" style="left:723.5px;top:411.5px;width:61px;height:28px;line-height:28px">42<i>/</i>146</div>
<div class="c v" style="left:785.0px;top:412.5px;width:62px;height:28px;line-height:28px">42<i>/</i>152</div>
<div class="c v" style="left:848.5px;top:413.5px;width:61px;height:28px;line-height:28px">42<i>/</i>158</div>
<div class="c v" style="left:911.5px;top:413.5px;width:63px;height:28px;line-height:28px">42<i>/</i>164</div>
<div class="c v" style="left:972.5px;top:413.5px;width:63px;height:28px;line-height:28px">42<i>/</i>170</div>
<div class="c v" style="left:1036.5px;top:413.5px;width:61px;height:28px;line-height:28px">42<i>/</i>176</div>
<div class="c v" style="left:1098.0px;top:413.5px;width:62px;height:28px;line-height:28px">42<i>/</i>182</div>
<div class="c v" style="left:1161.5px;top:413.5px;width:61px;height:28px;line-height:28px">42<i>/</i>188</div>
<div class="c l" style="left:239px;top:441.5px;width:33px;height:28px;line-height:28px">94</div>
<div class="c l" style="left:278px;top:441.5px;width:32px;height:28px;line-height:28px">74</div>
<div class="c l" style="left:315px;top:441.5px;width:33px;height:28px;line-height:28px">97</div>
<div class="c sz" style="left:349.0px;top:441.5px;width:61px;height:28px;line-height:28px">44</div>
<div class="c v" style="left:723.5px;top:439.5px;width:61px;height:28px;line-height:28px">44<i>/</i>146</div>
<div class="c v" style="left:785.0px;top:439.5px;width:62px;height:28px;line-height:28px">44<i>/</i>152</div>
<div class="c v" style="left:848.5px;top:441.5px;width:61px;height:28px;line-height:28px">44<i>/</i>158</div>
<div class="c v" style="left:911.5px;top:441.5px;width:63px;height:28px;line-height:28px">44<i>/</i>164</div>
<div class="c v" style="left:972.5px;top:441.5px;width:63px;height:28px;line-height:28px">44<i>/</i>170</div>
<div class="c v" style="left:1036.5px;top:441.5px;width:61px;height:28px;line-height:28px">44<i>/</i>176</div>
<div class="c v" style="left:1098.0px;top:441.5px;width:62px;height:28px;line-height:28px">44<i>/</i>182</div>
<div class="c v" style="left:1161.5px;top:441.5px;width:61px;height:28px;line-height:28px">44<i>/</i>188</div>
<div class="c l" style="left:239px;top:469.5px;width:33px;height:28px;line-height:28px">98</div>
<div class="c l" style="left:278px;top:469.5px;width:32px;height:28px;line-height:28px">76</div>
<div class="c l" style="left:315px;top:469.5px;width:33px;height:28px;line-height:28px">100</div>
<div class="c sz" style="left:349.0px;top:469.5px;width:61px;height:28px;line-height:28px">46</div>
<div class="c v" style="left:723.5px;top:467.5px;width:61px;height:28px;line-height:28px">46<i>/</i>146</div>
<div class="c v" style="left:785.0px;top:467.5px;width:62px;height:28px;line-height:28px">46<i>/</i>152</div>
<div class="c v" style="left:848.5px;top:469.5px;width:61px;height:28px;line-height:28px">46<i>/</i>158</div>
<div class="c v" style="left:911.5px;top:469.5px;width:63px;height:28px;line-height:28px">46<i>/</i>164</div>
<div class="c v" style="left:972.5px;top:469.5px;width:63px;height:28px;line-height:28px">46<i>/</i>170</div>
<div class="c v" style="left:1036.5px;top:469.5px;width:61px;height:28px;line-height:28px">46<i>/</i>176</div>
<div class="c v" style="left:1098.0px;top:469.5px;width:62px;height:28px;line-height:28px">46<i>/</i>182</div>
<div class="c v" style="left:1161.5px;top:469.5px;width:61px;height:28px;line-height:28px">46<i>/</i>188</div>
<div class="c l" style="left:239px;top:497.5px;width:33px;height:28px;line-height:28px">102</div>
<div class="c l" style="left:278px;top:497.5px;width:32px;height:28px;line-height:28px">78</div>
<div class="c l" style="left:315px;top:497.5px;width:33px;height:28px;line-height:28px">104</div>
<div class="c sz" style="left:349.0px;top:497.5px;width:61px;height:28px;line-height:28px">48</div>
<div class="c v" style="left:785.0px;top:495.5px;width:62px;height:28px;line-height:28px">48<i>/</i>152</div>
<div class="c v" style="left:848.5px;top:497.5px;width:61px;height:28px;line-height:28px">48<i>/</i>158</div>
<div class="c v" style="left:911.5px;top:497.5px;width:63px;height:28px;line-height:28px">48<i>/</i>164</div>
<div class="c v" style="left:972.5px;top:497.5px;width:63px;height:28px;line-height:28px">48<i>/</i>170</div>
<div class="c v" style="left:1036.5px;top:497.5px;width:61px;height:28px;line-height:28px">48<i>/</i>176</div>
<div class="c v" style="left:1098.0px;top:497.5px;width:62px;height:28px;line-height:28px">48<i>/</i>182</div>
<div class="c v" style="left:1161.5px;top:497.5px;width:61px;height:28px;line-height:28px">48<i>/</i>188</div>
<div class="c l" style="left:239px;top:525.5px;width:33px;height:28px;line-height:28px">106</div>
<div class="c l" style="left:278px;top:525.5px;width:32px;height:28px;line-height:28px">80</div>
<div class="c l" style="left:315px;top:525.5px;width:33px;height:28px;line-height:28px">107</div>
<div class="c sz" style="left:349.0px;top:525.5px;width:61px;height:28px;line-height:28px">50</div>
<div class="c v" style="left:848.5px;top:525.5px;width:61px;height:28px;line-height:28px">50<i>/</i>158</div>
<div class="c v" style="left:911.5px;top:525.5px;width:63px;height:28px;line-height:28px">50<i>/</i>164</div>
<div class="c v" style="left:972.5px;top:525.5px;width:63px;height:28px;line-height:28px">50<i>/</i>170</div>
<div class="c v" style="left:1036.5px;top:525.5px;width:61px;height:28px;line-height:28px">50<i>/</i>176</div>
<div class="c v" style="left:1098.0px;top:525.5px;width:62px;height:28px;line-height:28px">50<i>/</i>182</div>
<div class="c v" style="left:1161.5px;top:525.5px;width:61px;height:28px;line-height:28px">50<i>/</i>188</div>
<div class="c l" style="left:239px;top:553.5px;width:33px;height:28px;line-height:28px">110</div>
<div class="c l" style="left:278px;top:553.5px;width:32px;height:28px;line-height:28px">82</div>
<div class="c l" style="left:315px;top:553.5px;width:33px;height:28px;line-height:28px">111</div>
<div class="c sz" style="left:349.0px;top:553.5px;width:61px;height:28px;line-height:28px">52</div>
<div class="c v" style="left:911.5px;top:553.5px;width:63px;height:28px;line-height:28px">52<i>/</i>164</div>
<div class="c v" style="left:972.5px;top:553.5px;width:63px;height:28px;line-height:28px">52<i>/</i>170</div>
<div class="c v" style="left:1036.5px;top:553.5px;width:61px;height:28px;line-height:28px">52<i>/</i>176</div>
<div class="c v" style="left:1098.0px;top:553.5px;width:62px;height:28px;line-height:28px">52<i>/</i>182</div>
<div class="c v" style="left:1161.5px;top:553.5px;width:61px;height:28px;line-height:28px">52<i>/</i>188</div>
<div class="c l" style="left:239px;top:581.5px;width:33px;height:28px;line-height:28px">114</div>
<div class="c l" style="left:278px;top:581.5px;width:32px;height:28px;line-height:28px">84</div>
<div class="c l" style="left:315px;top:581.5px;width:33px;height:28px;line-height:28px">115</div>
<div class="c sz" style="left:349.0px;top:581.5px;width:61px;height:28px;line-height:28px">54</div>
<div class="c v" style="left:911.5px;top:582.0px;width:63px;height:28px;line-height:28px">54<i>/</i>164</div>
<div class="c v" style="left:972.5px;top:582.0px;width:63px;height:28px;line-height:28px">54<i>/</i>170</div>
<div class="c v" style="left:1036.5px;top:582.0px;width:61px;height:28px;line-height:28px">54<i>/</i>176</div>
<div class="c v" style="left:1098.0px;top:582.0px;width:62px;height:28px;line-height:28px">54<i>/</i>182</div>
<div class="c v" style="left:1161.5px;top:582.0px;width:61px;height:28px;line-height:28px">54<i>/</i>188</div>
<div class="c l" style="left:239px;top:609.5px;width:33px;height:28px;line-height:28px">118</div>
<div class="c l" style="left:278px;top:609.5px;width:32px;height:28px;line-height:28px">86</div>
<div class="c l" style="left:315px;top:609.5px;width:33px;height:28px;line-height:28px">119</div>
<div class="c sz" style="left:349.0px;top:609.5px;width:61px;height:28px;line-height:28px">56</div>
<div class="c v" style="left:911.5px;top:610.0px;width:63px;height:28px;line-height:28px">56<i>/</i>164</div>
<div class="c v" style="left:972.5px;top:610.0px;width:63px;height:28px;line-height:28px">56<i>/</i>170</div>
<div class="c v" style="left:1036.5px;top:610.0px;width:61px;height:28px;line-height:28px">56<i>/</i>176</div>
<div class="c v" style="left:1098.0px;top:610.0px;width:62px;height:28px;line-height:28px">56<i>/</i>182</div>
<div class="c v" style="left:1161.5px;top:610.0px;width:61px;height:28px;line-height:28px">56<i>/</i>188</div>
</div>
</div>
</body></html>
